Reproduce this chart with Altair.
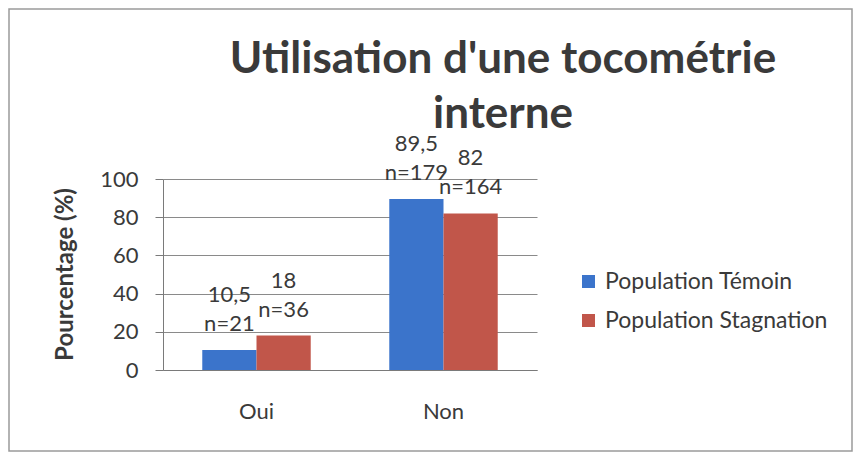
import altair as alt
import pandas as pd

categories = ["Oui", "Non"]
series = ["Population Témoin", "Population Stagnation"]
temoin_pct = [10.5, 89.5]
stagnation_pct = [18, 82]
temoin_n = [21, 179]
stagnation_n = [36, 164]
colors = ["#3B74CB", "#C1564A"]
title_text = "Utilisation d'une tocométrie\ninterne"
y_ticks = [0, 20, 40, 60, 80, 100]

def fmt(v):
    return f"{v:g}".replace(".", ",")

rows = []
for i, c in enumerate(categories):
    rows.append({"cat": c, "serie": series[0], "pct": temoin_pct[i],
                 "val": fmt(temoin_pct[i]), "n": f"n={temoin_n[i]}"})
    rows.append({"cat": c, "serie": series[1], "pct": stagnation_pct[i],
                 "val": fmt(stagnation_pct[i]), "n": f"n={stagnation_n[i]}"})
df = pd.DataFrame(rows)

FONT = "Lato"
TXT = "#3a3a3a"
LINE = "#7a7a7a"

x = alt.X("cat:N", sort=categories,
          scale=alt.Scale(paddingInner=0.42, paddingOuter=0.21),
          axis=alt.Axis(title=None, labelAngle=0, ticks=False, labelPadding=31,
                        labelFontSize=22, labelFont=FONT, labelColor=TXT,
                        domainColor=LINE, grid=False))
xo = alt.XOffset("serie:N", sort=series, scale=alt.Scale(paddingInner=0, paddingOuter=0))
y = alt.Y("pct:Q", scale=alt.Scale(domain=[0, 100]),
          axis=alt.Axis(values=y_ticks, title="Pourcentage (%)", labelOverlap=False,
                        titleFont=FONT, titleFontSize=24, titleFontWeight="bold",
                        titleColor=TXT, titleX=-98, titleY=95, titleAlign="center",
                        titleBaseline="middle", titleAngle=-90,
                        labelFont=FONT, labelFontSize=22, labelColor=TXT,
                        labelPadding=17, tickSize=8, tickColor=LINE,
                        domainColor=LINE, gridColor="#8a8a8a", grid=True))

frame = alt.Chart(alt.Data(values=[{"a": 1}])).mark_rect(
    fill="white", fillOpacity=0, stroke="#9a9a9a", strokeWidth=1.5
).encode(x=alt.value(-154), x2=alt.value(689), y=alt.value(-170), y2=alt.value(272))

title = alt.Chart(alt.Data(values=[{"a": 1}])).mark_text(
    font=FONT, fontSize=44, fontWeight="bold", color=TXT, align="center",
    baseline="alphabetic", lineBreak="\n", lineHeight=55
).encode(x=alt.value(340), y=alt.value(-106), text=alt.value(title_text))

bars = alt.Chart(df).mark_bar().encode(
    x=x, xOffset=xo, y=y,
    color=alt.Color("serie:N", sort=series,
                    scale=alt.Scale(domain=series, range=colors),
                    legend=alt.Legend(title=None, orient="none", legendX=414, legendY=91,
                                      symbolType="square", symbolSize=169,
                                      symbolStrokeWidth=0, labelFont=FONT,
                                      labelFontSize=23, labelColor=TXT, labelLimit=400,
                                      labelOffset=5, rowPadding=15)),
)

txt_kw = dict(baseline="bottom", align="center", fontSize=22, font=FONT, color=TXT)
n_labels = alt.Chart(df).mark_text(dy=-14, **txt_kw).encode(
    x=alt.X("cat:N", sort=categories), xOffset=alt.XOffset("serie:N", sort=series),
    y=y, text="n:N")
v_labels = alt.Chart(df).mark_text(dy=-43, **txt_kw).encode(
    x=alt.X("cat:N", sort=categories), xOffset=alt.XOffset("serie:N", sort=series),
    y=y, text="val:N")

chart = alt.layer(frame, bars, n_labels, v_labels, title).properties(
    width=374, height=191,
    autosize=alt.AutoSizeParams(type="none"),
    padding={"left": 155, "top": 171, "right": 316, "bottom": 82},
).configure_view(stroke=None)

chart.save("out.html", embed_options={"renderer": "svg", "actions": False})
